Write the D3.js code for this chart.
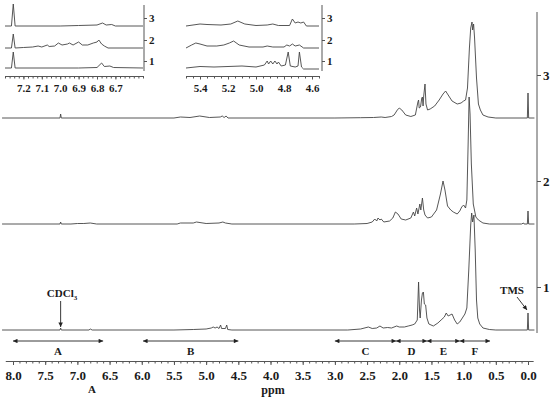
<!DOCTYPE html>
<html>
<head>
<meta charset="utf-8">
<title>1H NMR spectra</title>
<script src="https://cdn.jsdelivr.net/npm/d3@7"></script>
<style>
  body { margin: 0; background: #fff; }
  svg text { font-family: "Liberation Serif", "Times New Roman", serif; font-weight: bold; fill: #1a1a1a; }
  .trace { fill: none; stroke: #444; stroke-width: 0.9; stroke-linejoin: round; }
  .axis path, .axis line { stroke: #555; }
</style>
</head>
<body>
<svg id="chart" width="550" height="400"></svg>
<script>
// ---- data: [ppm, intensity] ----
var trace1 = [[8.17,0],[7.27,0],[7.26,2],[7.25,0],[6.82,0],[6.8,1],[6.77,0],[5.5,0],[5.2,0.5],[5.0,1],[4.92,2],[4.89,3],[4.86,2],[4.83,3],[4.80,1.5],[4.775,5],[4.76,1.5],[4.70,1.5],[4.68,5],[4.665,0.5],[4.6,0],
  [2.8,0],[2.6,1],[2.48,3],[2.42,1.5],[2.35,2],[2.3,4],[2.25,2],[2.18,2.5],[2.12,2],[2.04,4],[2.0,3],[1.92,3],[1.86,4],[1.80,5],[1.76,6],[1.72,10],[1.70,48],[1.685,20],[1.675,12],[1.655,30],[1.64,37],[1.625,38],[1.61,26],[1.59,25],[1.57,12],[1.54,6],[1.47,4],[1.40,7],[1.35,10],[1.30,13],[1.27,17],[1.24,14],[1.21,15],[1.18,16],[1.14,10],[1.10,6],[1.06,8],[1.02,12],[0.98,16],[0.95,22],[0.92,60],[0.89,105],[0.875,117],[0.86,108],[0.84,115],[0.82,80],[0.80,30],[0.78,12],[0.75,6],[0.70,2],[0.6,0.5],[0.5,0],[0.01,0],[0.0,17],[-0.01,0],[-0.1,0]];
var trace2 = [[8.17,0],[7.27,0],[7.26,2],[7.25,0],[7.1,0],[7.0,0.5],[6.9,0.5],[6.8,1],[6.7,0],[5.45,0],[5.4,1],[5.2,1],[5.15,2],[5.0,0.5],[4.8,1],[4.74,2],[4.7,1],[4.6,0],
  [2.7,0],[2.5,0.5],[2.42,2],[2.38,5],[2.35,3],[2.33,6],[2.30,4],[2.28,5],[2.24,2],[2.15,3],[2.10,6],[2.06,12],[2.02,10],[1.97,5],[1.9,4],[1.82,6],[1.78,12],[1.76,8],[1.73,16],[1.71,10],[1.68,20],[1.665,14],[1.64,26],[1.62,14],[1.60,9],[1.56,6],[1.5,7],[1.42,14],[1.36,30],[1.32,43],[1.29,34],[1.25,18],[1.20,14],[1.16,12],[1.10,10],[1.06,13],[1.03,17],[1.0,19],[0.97,16],[0.95,24],[0.93,80],[0.915,127],[0.90,110],[0.88,60],[0.85,20],[0.81,7],[0.77,4],[0.7,1],[0.6,0],[0.1,0],[0.07,1],[0.06,0],[0.01,0],[0.0,13],[-0.01,0],[-0.1,0]];
var trace3 = [[8.17,0],[7.27,0],[7.26,4],[7.25,0],[5.5,0],[5.4,1],[5.25,0.5],[5.1,2],[4.95,0.5],[4.78,1],[4.75,2],[4.72,0.5],[4.69,2],[4.66,0],
  [3.0,0],[2.6,0.3],[2.4,0.5],[2.28,1],[2.22,0.5],[2.12,1.5],[2.08,3],[2.03,8],[2.0,10],[1.96,8],[1.9,3],[1.82,1.5],[1.75,3],[1.71,16],[1.70,18],[1.69,10],[1.67,11],[1.65,20],[1.64,21],[1.63,12],[1.62,22],[1.60,34],[1.585,14],[1.56,8],[1.52,9],[1.45,12],[1.38,18],[1.32,24],[1.28,27],[1.24,23],[1.18,17],[1.10,14],[1.04,15],[1.0,17],[0.97,18],[0.94,30],[0.91,70],[0.89,90],[0.87,96],[0.86,88],[0.845,94],[0.83,80],[0.80,40],[0.77,14],[0.74,8],[0.70,3],[0.62,1],[0.5,0],[0.01,0],[0.0,25],[-0.01,0],[-0.1,0]];

// aromatic inset (7.3 - 6.55 ppm)
var aro1 = [[7.3,0],[7.265,0],[7.255,16],[7.245,0],[6.9,0],[6.80,0.5],[6.775,5],[6.76,1.5],[6.73,2],[6.71,0.5],[6.55,0]];
var aro2 = [[7.3,0],[7.265,0],[7.255,14],[7.245,0],[7.2,0.5],[7.15,1],[7.12,2],[7.10,1],[7.07,3],[7.06,1.5],[7.03,2],[7.01,5],[6.99,3],[6.96,4],[6.95,5],[6.93,3],[6.90,6],[6.88,3],[6.85,3],[6.82,5],[6.80,6],[6.79,8],[6.775,4],[6.76,2],[6.74,0],[6.55,0]];
var aro3 = [[7.3,0],[7.265,0],[7.255,22],[7.245,0],[7.0,0],[6.9,0.5],[6.8,1],[6.77,3],[6.75,1],[6.72,1.5],[6.70,0],[6.55,0]];

// olefinic inset (5.5 - 4.55 ppm)
var ole1 = [[5.5,0],[5.4,1.5],[5.3,1],[5.2,1.5],[5.1,2],[5.0,1],[4.94,3],[4.92,7],[4.91,4],[4.895,7],[4.88,4],[4.865,7],[4.85,4],[4.84,6],[4.82,2],[4.79,3],[4.77,16],[4.755,2],[4.72,1],[4.70,2],[4.69,16],[4.675,1],[4.66,-1],[4.55,-1]];
var ole2 = [[5.5,0],[5.46,3],[5.43,5],[5.40,4],[5.35,2],[5.28,2],[5.23,3],[5.19,5],[5.16,7],[5.12,3],[5.05,1],[4.95,1],[4.92,2],[4.88,1],[4.80,1],[4.78,3],[4.76,2],[4.74,4],[4.72,2],[4.69,3],[4.66,0],[4.55,0]];
var ole3 = [[5.5,0],[5.45,1],[5.40,2],[5.35,1.5],[5.25,1],[5.18,2],[5.13,5],[5.08,2],[5.0,0.5],[4.92,1],[4.88,2],[4.84,0.5],[4.76,0.5],[4.74,7],[4.72,3],[4.70,4],[4.68,3],[4.66,4],[4.64,0],[4.55,0]];

var traceNames = ["1", "2", "3"];
var mainTicks = [8.0, 7.5, 7.0, 6.5, 6.0, 5.5, 5.0, 4.5, 4.0, 3.5, 3.0, 2.5, 2.0, 1.5, 1.0, 0.5, 0.0];
var aroTicks = [7.2, 7.1, 7.0, 6.9, 6.8, 6.7];
var oleTicks = [5.4, 5.2, 5.0, 4.8, 4.6];

var regionNames = ["A", "B", "C", "D", "E", "F"];
var regionFrom  = [8.0, 5.98, 3.0, 2.05, 1.57, 1.06];
var regionTo    = [6.6, 4.5, 2.05, 1.57, 1.06, 0.59];

// ---- drawing ----
var svg = d3.select("#chart");
var fmt = d3.format(".1f");

svg.append("defs").append("marker")
  .attr("id", "head").attr("viewBox", "0 0 10 10")
  .attr("refX", 10).attr("refY", 5)
  .attr("markerWidth", 7).attr("markerHeight", 5)
  .attr("orient", "auto-start-reverse")
  .append("path").attr("d", "M0,0 L10,5 L0,10 z").attr("fill", "#222");

var x = d3.scaleLinear().domain([8.0, 0.0]).range([13, 528]);
var mainBase = [330, 224, 118];     // baseline of trace 1, 2, 3
var mainSpectra = [trace1, trace2, trace3];

mainSpectra.forEach(function (sp, i) {
  var y = d3.scaleLinear().domain([0, 100]).range([mainBase[i], mainBase[i] - 100]);
  svg.append("path").datum(sp).attr("class", "trace")
    .attr("d", d3.line().x(function (d) { return x(d[0]); }).y(function (d) { return y(d[1]); }));
});

// right-hand stack axis with trace numbers
var stackY = d3.scaleOrdinal().domain(traceNames).range([287, 181, 75]);
var stackAxis = d3.axisRight(stackY).tickSize(4).tickPadding(2).tickSizeOuter(0);
var sa = svg.append("g").attr("class", "axis").attr("transform", "translate(537,0)").call(stackAxis);
sa.select(".domain").remove();
sa.append("line").attr("x1", 0).attr("x2", 0).attr("y1", 12).attr("y2", 333).attr("stroke", "#555");
sa.selectAll("text").style("font-size", "13px").attr("fill", "#1a1a1a");

// main ppm axis: minor ticks every 0.1, labels every 0.5
var xAxisScale = x.copy().domain([8.12, -0.08]).range([x(8.12), x(-0.08)]);
var minor = d3.range(81).map(function (k) { return +(8.0 - k * 0.1).toFixed(1); });
svg.append("g").attr("class", "axis").attr("transform", "translate(0,361)")
  .call(d3.axisBottom(xAxisScale).tickValues(minor).tickSize(2.5).tickSizeOuter(0).tickFormat(""));
var ax = svg.append("g").attr("class", "axis").attr("transform", "translate(0,361)")
  .call(d3.axisBottom(x).tickValues(mainTicks).tickSize(4).tickPadding(6).tickFormat(fmt));
ax.select(".domain").remove();
ax.selectAll("text").style("font-size", "13px").attr("fill", "#1a1a1a");

svg.append("text").attr("x", 273).attr("y", 394).attr("text-anchor", "middle").style("font-size", "12px").text("ppm");
svg.append("text").attr("x", 92).attr("y", 393).attr("text-anchor", "middle").style("font-size", "11px").text("A");

// region arrows
regionNames.forEach(function (name, i) {
  var x0 = x(regionFrom[i]), x1 = x(regionTo[i]);
  svg.append("line").attr("x1", x0).attr("x2", x1).attr("y1", 341).attr("y2", 341)
    .attr("stroke", "#222").attr("stroke-width", 0.9)
    .attr("marker-start", "url(#head)").attr("marker-end", "url(#head)");
  svg.append("text").attr("x", (x0 + x1) / 2).attr("y", 355).attr("text-anchor", "middle")
    .style("font-size", "11px").text(name);
});

// annotations
var cd = svg.append("text").attr("x", 62).attr("y", 297).attr("text-anchor", "middle").style("font-size", "11px");
cd.append("tspan").text("CDCl");
cd.append("tspan").attr("dy", 3).style("font-size", "7px").text("3");
svg.append("line").attr("x1", x(7.26)).attr("x2", x(7.26)).attr("y1", 301).attr("y2", 327)
  .attr("stroke", "#222").attr("stroke-width", 0.9).attr("marker-end", "url(#head)");
svg.append("text").attr("x", 512).attr("y", 294).attr("text-anchor", "middle").style("font-size", "11px").text("TMS");
svg.append("line").attr("x1", 517).attr("y1", 297).attr("x2", x(0.0) - 1).attr("y2", 310)
  .attr("stroke", "#222").attr("stroke-width", 0.9).attr("marker-end", "url(#head)");

// ---- insets ----
function inset(spectra, dom, rng, ticks, step, rightX) {
  var xs = d3.scaleLinear().domain(dom).range(rng);
  var base = [68, 48, 26];
  var g = svg.append("g");
  spectra.forEach(function (sp, i) {
    var y = d3.scaleLinear().domain([0, 100]).range([base[i], base[i] - 100]);
    g.append("path").datum(sp).attr("class", "trace").attr("stroke-width", 0.8)
      .attr("d", d3.line().x(function (d) { return xs(d[0]); }).y(function (d) { return y(d[1]); }));
  });
  var n = Math.round((dom[0] - dom[1]) / step);
  var minorT = d3.range(n + 1).map(function (k) { return dom[0] - k * step; });
  g.append("g").attr("class", "axis").attr("transform", "translate(0,76)")
    .call(d3.axisBottom(xs).tickValues(minorT).tickSize(2.5).tickSizeOuter(0).tickFormat(""));
  var a = g.append("g").attr("class", "axis").attr("transform", "translate(0,76)")
    .call(d3.axisBottom(xs).tickValues(ticks).tickSize(3.5).tickPadding(5).tickFormat(fmt));
  a.select(".domain").remove();
  a.selectAll("text").style("font-size", "11px").attr("fill", "#1a1a1a");
  var sy = d3.scaleOrdinal().domain(traceNames).range([61, 40, 18]);
  var r = g.append("g").attr("class", "axis").attr("transform", "translate(" + rightX + ",0)")
    .call(d3.axisRight(sy).tickSize(3).tickPadding(2).tickSizeOuter(0));
  r.select(".domain").remove();
  r.append("line").attr("y1", 5).attr("y2", 71).attr("stroke", "#555");
  r.selectAll("text").style("font-size", "11px").attr("fill", "#1a1a1a");
}
inset([aro1, aro2, aro3], [7.3, 6.55], [5, 143], aroTicks, 0.025, 144);
inset([ole1, ole2, ole3], [5.5, 4.55], [186, 319], oleTicks, 0.05, 322);
</script>
</body>
</html>
